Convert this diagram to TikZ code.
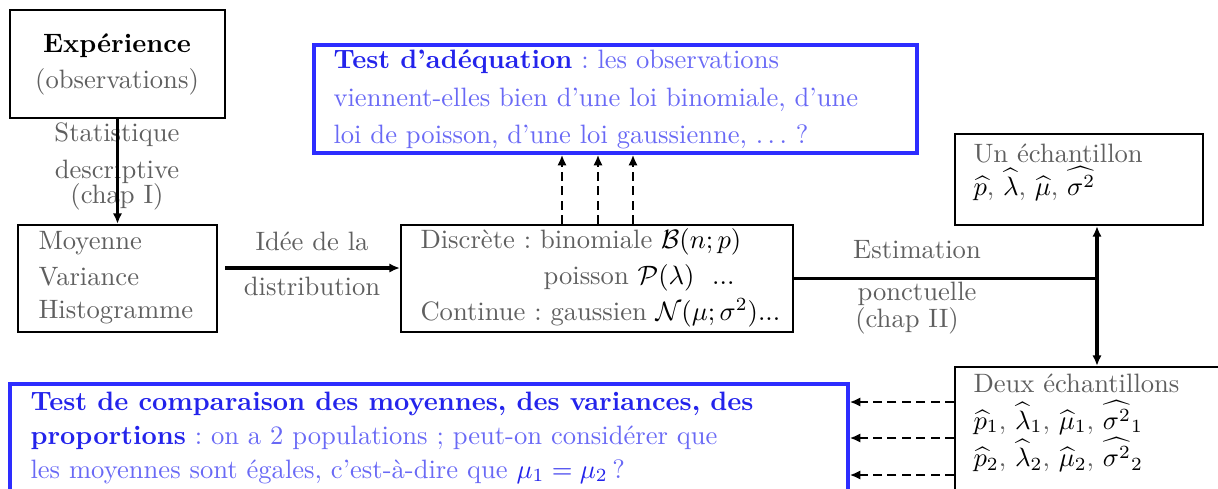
\documentclass[tikz,border=0pt]{standalone}
\usetikzlibrary{arrows.meta,fit}
\definecolor{tgray}{RGB}{95,95,95}
\definecolor{bbold}{RGB}{35,35,235}
\definecolor{blight}{RGB}{105,105,245}
\definecolor{bframe}{RGB}{45,45,255}
\newcommand\mk[1]{{\color{black}$#1$}}
\begin{document}
\frenchspacing
\begin{tikzpicture}[x=0.376pt,y=-0.376pt,
 box/.style={draw=black,line width=0.8pt,inner sep=0pt},
 bluebox/.style={draw=bframe,line width=1.3pt,inner sep=0pt},
 txt/.style={text=tgray,inner sep=0pt,anchor=base west},
 ctxt/.style={text=tgray,inner sep=0pt,anchor=base},
 btxt/.style={text=blight,inner sep=0pt,anchor=base west},
 arr/.style={line width=1.25pt,-{Latex[length=4pt,width=3.5pt]}},
 darr/.style={line width=1.1pt,dash pattern=on 3.4pt off 2pt,-{Latex[length=4pt,width=3.5pt]}},
]
\useasboundingbox (0,0) rectangle (1218,488);
\begin{scope}
\clip (0,0) rectangle (1218,488);
% boxes
\node[box,fit={(10,10) (225,118)}] (exp) {};
\node[box,fit={(18,225) (217,332)}] (moy) {};
\node[box,fit={(401,225) (793,332)}] (disc) {};
\node[bluebox,fit={(314,45) (917,153)}] (test) {};
\node[box,fit={(955,134) (1203,225)}] (un) {};
\node[box,fit={(955,367) (1240,510)}] (deux) {};
\node[bluebox,fit={(10,384) (848,510)}] (comp) {};

% Experience
\node[ctxt,text=black] (e1) at (117,52) {\bfseries Expérience};
\node[ctxt] (e2) at (117,88) {(observations)};
\node[ctxt] (s1) at (117,141) {Statistique};
\node[ctxt] (s2) at (117,178) {descriptive};
\node[ctxt] (s3) at (117,203) {(chap I)};
\draw[arr] (exp.south) -- (moy.north);

% Moyenne
\node[txt] (m1) at (38,249) {Moyenne};
\node[txt] (m2) at (38,285) {Variance};
\node[txt] (m3) at (38,318) {Histogramme};
\node[ctxt] (i1) at (312,250) {Idée de la};
\node[ctxt] (i2) at (312,295) {distribution};
\coordinate (a1) at (225,268);
\draw[arr] (a1) -- (a1 -| disc.west);

% Discrete
\node[txt] (d1) at (420,248) {Discrète : binomiale \mk{\mathcal{B}(n;p)}};
\node[txt] (d2) at (543,284) {poisson \mk{\mathcal{P}(\lambda)}\ \ {\color{black}...}};
\node[txt] (d3) at (420,320) {Continue : gaussien \mk{\mathcal{N}(\mu;\sigma^2)}{\color{black}...}};

% Test adequation
\node[btxt] (t1) at (333,68) {{\bfseries\color{bbold}Test d’adéquation} : les observations};
\node[btxt] (t2) at (333,106) {viennent-elles bien d’une loi binomiale, d’une};
\node[btxt] (t3) at (333,143) {loi de poisson, d’une loi gaussienne, $\ldots$ ?};
\coordinate (u1c) at (562,0);
\coordinate (u2c) at (598,0);
\coordinate (u3c) at (633,0);
\draw[darr] (u1c |- disc.north) -- (u1c |- test.south);
\draw[darr] (u2c |- disc.north) -- (u2c |- test.south);
\draw[darr] (u3c |- disc.north) -- (u3c |- test.south);

% Un echantillon
\node[txt] (un1) at (973,162) {Un échantillon};
\node[txt] (un2) at (973,195) {\mk{\widehat{p}}, \mk{\widehat{\lambda}}, \mk{\widehat{\mu}}, \mk{\widehat{\sigma^2}}};

% Estimation
\coordinate (j) at (1097,278.5);
\draw[line width=1.25pt] (disc.east) -- (j);
\draw[line width=1.25pt,{Latex[length=4pt,width=3.5pt]}-{Latex[length=4pt,width=3.5pt]}] (j |- un.south) -- (j |- deux.north);
\node[ctxt] (es1) at (917,258) {Estimation};
\node[ctxt] (es2) at (917,300) {ponctuelle};
\node[ctxt] (es3) at (907,327) {(chap II)};

% Deux echantillons
\node[txt] (de1) at (973,392) {Deux échantillons};
\node[txt] (de2) at (973,429) {\mk{\widehat{p}_1}, \mk{\widehat{\lambda}_1}, \mk{\widehat{\mu}_1}, \mk{\widehat{\sigma^2}_1}};
\node[txt] (de3) at (973,466) {\mk{\widehat{p}_2}, \mk{\widehat{\lambda}_2}, \mk{\widehat{\mu}_2}, \mk{\widehat{\sigma^2}_2}};

% Comparaison
\node[btxt] (c1) at (30,410) {\bfseries\color{bbold}Test de comparaison des moyennes, des variances, des};
\node[btxt] (c2) at (30,444) {{\bfseries\color{bbold}proportions} : on a 2 populations ; peut-on considérer que};
\node[btxt] (c3) at (30,478) {les moyennes sont égales, c’est-à-dire que {\color{bbold}$\mu_1=\mu_2$}\,?};
\coordinate (h1) at (0,402);
\coordinate (h2) at (0,438);
\coordinate (h3) at (0,475);
\draw[darr] (deux.west |- h1) -- (comp.east |- h1);
\draw[darr] (deux.west |- h2) -- (comp.east |- h2);
\draw[darr] (deux.west |- h3) -- (comp.east |- h3);
\end{scope}
\end{tikzpicture}
\end{document}
